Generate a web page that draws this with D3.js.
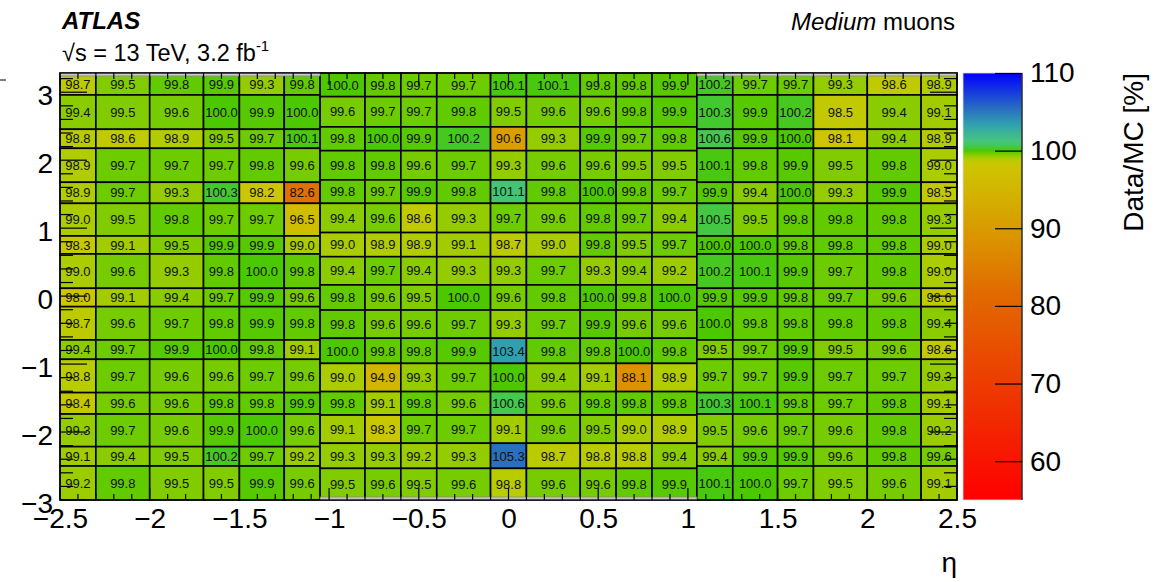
<!DOCTYPE html>
<html>
<head>
<meta charset="utf-8">
<script src="https://cdn.jsdelivr.net/npm/d3@7"></script>
<style>
body { margin: 0; background: #fff; }
text { font-family: "Liberation Sans", Arial, Helvetica, sans-serif; }
</style>
</head>
<body>
<svg id="chart" width="1163" height="582"></svg>
<script>
// eta bin edges of the three regions
var etaEdgesEndcapC = [-2.5, -2.3, -2.0, -1.7, -1.5, -1.25, -1.05];
var etaEdgesBarrel = [-1.05, -0.8, -0.6, -0.4, -0.1, 0.1, 0.4, 0.6, 0.8, 1.05];
var etaEdgesEndcapA = [1.05, 1.25, 1.5, 1.7, 2.0, 2.3, 2.5];

// phi bin edges, from top to bottom
var phiEdgesEndcap = [3.283, 2.96, 2.455, 2.175, 1.675, 1.365, 0.885, 0.62, 0.115, -0.155, -0.645, -0.93, -1.42, -1.735, -2.215, -2.50, -3.0];
var phiEdgesBarrel = [3.283, 2.935, 2.49, 2.14, 1.71, 1.365, 0.935, 0.58, 0.165, -0.205, -0.62, -0.99, -1.405, -1.75, -2.165, -2.535, -3.0];

// Data/MC [%], one row per phi bin (top first)
var valuesEndcapC = [
    [98.7, 99.5, 99.8, 99.9, 99.3, 99.8],
    [99.4, 99.5, 99.6, 100.0, 99.9, 100.0],
    [98.8, 98.6, 98.9, 99.5, 99.7, 100.1],
    [98.9, 99.7, 99.7, 99.7, 99.8, 99.6],
    [98.9, 99.7, 99.3, 100.3, 98.2, 82.6],
    [99.0, 99.5, 99.8, 99.7, 99.7, 96.5],
    [98.3, 99.1, 99.5, 99.9, 99.9, 99.0],
    [99.0, 99.6, 99.3, 99.8, 100.0, 99.8],
    [98.0, 99.1, 99.4, 99.7, 99.9, 99.6],
    [98.7, 99.6, 99.7, 99.8, 99.9, 99.8],
    [99.4, 99.7, 99.9, 100.0, 99.8, 99.1],
    [98.8, 99.7, 99.6, 99.6, 99.7, 99.6],
    [98.4, 99.6, 99.6, 99.8, 99.8, 99.9],
    [99.3, 99.7, 99.6, 99.9, 100.0, 99.6],
    [99.1, 99.4, 99.5, 100.2, 99.7, 99.2],
    [99.2, 99.8, 99.5, 99.5, 99.9, 99.6]
];
var valuesBarrel = [
    [100.0, 99.8, 99.7, 99.7, 100.1, 100.1, 99.8, 99.8, 99.9],
    [99.6, 99.7, 99.7, 99.8, 99.5, 99.6, 99.6, 99.8, 99.9],
    [99.8, 100.0, 99.9, 100.2, 90.6, 99.3, 99.9, 99.7, 99.8],
    [99.8, 99.8, 99.6, 99.7, 99.3, 99.6, 99.6, 99.5, 99.5],
    [99.8, 99.7, 99.9, 99.8, 101.1, 99.8, 100.0, 99.8, 99.7],
    [99.4, 99.6, 98.6, 99.3, 99.7, 99.6, 99.8, 99.7, 99.4],
    [99.0, 98.9, 98.9, 99.1, 98.7, 99.0, 99.8, 99.5, 99.7],
    [99.4, 99.7, 99.4, 99.3, 99.3, 99.7, 99.3, 99.4, 99.2],
    [99.8, 99.6, 99.5, 100.0, 99.6, 99.8, 100.0, 99.8, 100.0],
    [99.8, 99.6, 99.6, 99.7, 99.3, 99.7, 99.9, 99.6, 99.6],
    [100.0, 99.8, 99.8, 99.9, 103.4, 99.8, 99.8, 100.0, 99.8],
    [99.0, 94.9, 99.3, 99.7, 100.0, 99.4, 99.1, 88.1, 98.9],
    [99.8, 99.1, 99.8, 99.6, 100.6, 99.6, 99.8, 99.8, 99.8],
    [99.1, 98.3, 99.7, 99.7, 99.1, 99.6, 99.5, 99.0, 98.9],
    [99.3, 99.3, 99.2, 99.3, 105.3, 98.7, 98.8, 98.8, 99.4],
    [99.5, 99.6, 99.5, 99.6, 98.8, 99.6, 99.6, 99.8, 99.9]
];
var valuesEndcapA = [
    [100.2, 99.7, 99.7, 99.3, 98.6, 98.9],
    [100.3, 99.9, 100.2, 98.5, 99.4, 99.1],
    [100.6, 99.9, 100.0, 98.1, 99.4, 98.9],
    [100.1, 99.8, 99.9, 99.5, 99.8, 99.0],
    [99.9, 99.4, 100.0, 99.3, 99.9, 98.5],
    [100.5, 99.5, 99.8, 99.8, 99.8, 99.3],
    [100.0, 100.0, 99.8, 99.8, 99.8, 99.0],
    [100.2, 100.1, 99.9, 99.7, 99.8, 99.0],
    [99.9, 99.9, 99.8, 99.7, 99.6, 98.6],
    [100.0, 99.8, 99.8, 99.8, 99.8, 99.4],
    [99.5, 99.7, 99.9, 99.5, 99.6, 98.6],
    [99.7, 99.7, 99.9, 99.7, 99.7, 99.3],
    [100.3, 100.1, 99.8, 99.7, 99.8, 99.1],
    [99.5, 99.6, 99.7, 99.6, 99.8, 99.2],
    [99.4, 99.9, 99.9, 99.6, 99.8, 99.6],
    [100.1, 100.0, 99.7, 99.5, 99.6, 99.1]
];

var xTicks = [-2.5, -2, -1.5, -1, -0.5, 0, 0.5, 1, 1.5, 2, 2.5];
var yTicks = [-3, -2, -1, 0, 1, 2, 3];
var zTicks = [60, 70, 80, 90, 100, 110];

// palette
var paletteValues = [55, 65, 75, 82, 88, 91, 95, 98.2, 98.8, 99.3, 99.7, 100.0, 100.3, 100.7, 101.3, 103.4, 105.3, 110];
var paletteColors = ["#ff0000", "#f22800", "#e85000", "#e06c00", "#dc9000", "#d8a000", "#d2b600", "#ccc600",
    "#b8cc00", "#94cc00", "#6ccc00", "#4cc800", "#44c830", "#44c858", "#46c480", "#30a0b0", "#2a70c0", "#0000ff"];

var svg = d3.select("#chart");

var x = d3.scaleLinear().domain([-2.5, 2.5]).range([60, 957]);
var y = d3.scaleLinear().domain([-3.0, 3.283]).range([500, 73]);
var z = d3.scaleLinear().domain([55, 110]).range([500, 73]);
var color = d3.scaleLinear().domain(paletteValues).range(paletteColors).clamp(true);
var fmt = d3.format(".1f");

var regions = [
    {eta: etaEdgesEndcapC, phi: phiEdgesEndcap, values: valuesEndcapC},
    {eta: etaEdgesBarrel, phi: phiEdgesBarrel, values: valuesBarrel},
    {eta: etaEdgesEndcapA, phi: phiEdgesEndcap, values: valuesEndcapA}
];

var cells = [];
regions.forEach(function (r) {
    r.values.forEach(function (row, i) {
        row.forEach(function (v, j) {
            cells.push({x0: r.eta[j], x1: r.eta[j + 1], y0: r.phi[i], y1: r.phi[i + 1], v: v});
        });
    });
});

var g = svg.append("g");
g.selectAll("rect").data(cells).enter()
    .append("rect")
    .attr("x", function (d) { return x(d.x0); })
    .attr("y", function (d) { return y(d.y0); })
    .attr("width", function (d) { return x(d.x1) - x(d.x0); })
    .attr("height", function (d) { return y(d.y1) - y(d.y0); })
    .attr("fill", function (d) { return color(d.v); })
    .attr("stroke", "#000")
    .attr("stroke-width", 1.6);

g.selectAll("text").data(cells).enter()
    .append("text")
    .attr("x", function (d) { return (x(d.x0) + x(d.x1)) / 2; })
    .attr("y", function (d) { return (y(d.y0) + y(d.y1)) / 2; })
    .attr("dy", "0.36em")
    .attr("text-anchor", "middle")
    .attr("font-size", 13)
    .attr("fill", "#111")
    .text(function (d) { return fmt(d.v); });

// overlaid frames of the separate histograms
svg.append("rect").attr("x", x(-2.5)).attr("y", y(3.283)).attr("width", x(-1.05) - x(-2.5)).attr("height", 3)
    .attr("fill", "#c8c8c8").attr("stroke", "#888").attr("stroke-width", 0.8);
svg.append("rect").attr("x", x(1.05)).attr("y", y(3.283)).attr("width", x(2.5) - x(1.05)).attr("height", 3)
    .attr("fill", "#c8c8c8").attr("stroke", "#888").attr("stroke-width", 0.8);
svg.append("rect").attr("x", x(-1.05)).attr("y", y(-3.0) - 3).attr("width", x(1.05) - x(-1.05)).attr("height", 3)
    .attr("fill", "#c8c8c8").attr("stroke", "#888").attr("stroke-width", 0.8);

svg.append("rect")
    .attr("x", x(-2.5)).attr("y", y(3.283))
    .attr("width", x(2.5) - x(-2.5)).attr("height", y(-3.0) - y(3.283))
    .attr("fill", "none").attr("stroke", "#000").attr("stroke-width", 1.2);

// ticks
var ticks = svg.append("g").attr("stroke", "#000").attr("stroke-width", 1.2);
d3.range(-25, 26).forEach(function (k) {
    var len = (k % 5 === 0) ? 12 : 6;
    var px = x(k / 10);
    ticks.append("line").attr("x1", px).attr("x2", px).attr("y1", y(-3.0)).attr("y2", y(-3.0) - len);
    ticks.append("line").attr("x1", px).attr("x2", px).attr("y1", y(3.283)).attr("y2", y(3.283) + len);
});
d3.range(-15, 17).forEach(function (k) {
    var len = (k % 5 === 0) ? 27 : 13;
    var py = y(k / 5);
    ticks.append("line").attr("x1", x(-2.5)).attr("x2", x(-2.5) + len).attr("y1", py).attr("y2", py);
    ticks.append("line").attr("x1", x(2.5)).attr("x2", x(2.5) - len).attr("y1", py).attr("y2", py);
});

// axis labels
var xAxis = svg.append("g")
    .attr("transform", "translate(0," + y(-3.0) + ")")
    .call(d3.axisBottom(x).tickValues(xTicks).tickSize(0).tickPadding(8).tickFormat(d3.format("")));
var yAxis = svg.append("g")
    .attr("transform", "translate(" + x(-2.5) + ",0)")
    .call(d3.axisLeft(y).tickValues(yTicks).tickSize(0).tickPadding(7).tickFormat(d3.format("")));
[xAxis, yAxis].forEach(function (a) {
    a.select(".domain").remove();
    a.selectAll("text").attr("font-size", 28).attr("font-family", null).attr("fill", "#000");
});
yAxis.selectAll("text").attr("dy", "0.45em");

svg.append("text").attr("x", x(2.5)).attr("y", 572).attr("text-anchor", "end")
    .attr("font-size", 28).text("η");

// colour bar
var grad = svg.append("defs").append("linearGradient")
    .attr("id", "pal").attr("x1", 0).attr("y1", 1).attr("x2", 0).attr("y2", 0);
grad.selectAll("stop").data(paletteValues).enter()
    .append("stop")
    .attr("offset", function (d) { return (d - 55) / 55; })
    .attr("stop-color", function (d) { return color(d); });

svg.append("rect").attr("x", 963).attr("y", z(110)).attr("width", 59).attr("height", z(55) - z(110))
    .attr("fill", "url(#pal)").attr("stroke", "#ddd").attr("stroke-width", 0.8);
svg.append("line").attr("x1", 1022).attr("x2", 1022).attr("y1", z(110)).attr("y2", z(55))
    .attr("stroke", "#000").attr("stroke-width", 1.2);

var zAxis = svg.append("g")
    .attr("transform", "translate(1022,0)")
    .call(d3.axisRight(z).tickValues(zTicks).tickSizeInner(-27).tickSizeOuter(0).tickPadding(8).tickFormat(d3.format("")));
zAxis.select(".domain").remove();
zAxis.selectAll("line").attr("stroke-width", 1.2);
zAxis.selectAll("text").attr("font-size", 28).attr("font-family", null).attr("fill", "#000");

svg.append("text")
    .attr("transform", "translate(1143," + z(110) + ") rotate(-90)")
    .attr("text-anchor", "end")
    .attr("font-size", 28)
    .text("Data/MC [%]");

// labels
svg.append("text").attr("x", 62).attr("y", 29).attr("font-size", 24)
    .attr("font-weight", "bold").attr("font-style", "italic").text("ATLAS");
var lumi = svg.append("text").attr("x", 62).attr("y", 61).attr("font-size", 23.5);
lumi.append("tspan").text("√s = 13 TeV, 3.2 fb");
lumi.append("tspan").attr("font-size", 15).attr("dy", -10).text("-1");
var sel = svg.append("text").attr("x", 955).attr("y", 30).attr("font-size", 24).attr("text-anchor", "end");
sel.append("tspan").attr("font-style", "italic").text("Medium");
sel.append("tspan").text(" muons");

svg.append("line").attr("x1", 0).attr("x2", 6).attr("y1", 80).attr("y2", 80).attr("stroke", "#000");
</script>
</body>
</html>
